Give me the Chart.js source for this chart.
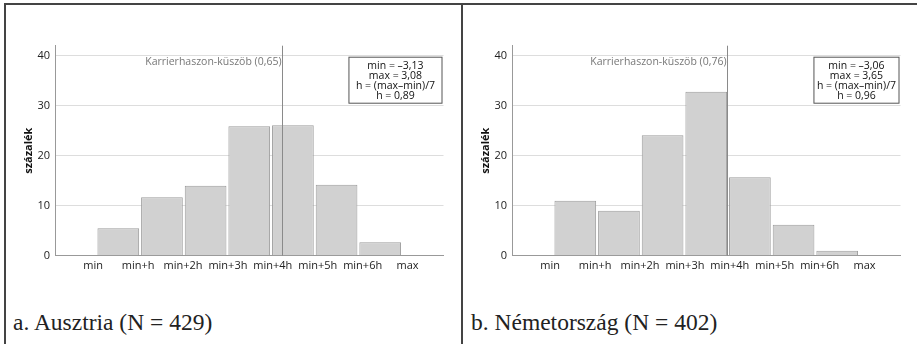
<!DOCTYPE html>
<html>
<head>
<meta charset="utf-8">
<script src="https://cdn.jsdelivr.net/npm/chart.js@4.4.1/dist/chart.umd.min.js"></script>
<style>
  body { margin: 0; background: #fff; }
  #page { position: relative; width: 917px; height: 344px; overflow: hidden; }
  .rule { position: absolute; background: #444; }
  .panel { position: absolute; top: 0; width: 460px; height: 290px; }
  .caption { position: absolute; top: 311px; font-family: 'Liberation Serif', serif; font-size: 23.5px; line-height: 23px; color: #222; white-space: nowrap; }
</style>
</head>
<body>
<div id="page">
  <div class="rule" style="left:4px; top:3px; width:913px; height:2px;"></div>
  <div class="rule" style="left:4px; top:3px; width:2px; height:341px;"></div>
  <div class="rule" style="left:461px; top:3px; width:2px; height:341px;"></div>
  <div class="panel" style="left:0px;"><canvas id="chartA" width="460" height="290"></canvas></div>
  <div class="panel" style="left:457px;"><canvas id="chartB" width="460" height="290"></canvas></div>
  <div class="caption" style="left:13px;">a. Ausztria (N = 429)</div>
  <div class="caption" style="left:471px;">b. Németország (N = 402)</div>
</div>
<script>
// Tengely feliratok
const binLabels = ['min', 'min+h', 'min+2h', 'min+3h', 'min+4h', 'min+5h', 'min+6h', 'max'];
const yTicks = [0, 10, 20, 30, 40];

// Ausztria
const percentA = [5.5, 11.7, 14.0, 25.9, 26.1, 14.2, 2.7];
const minA = -3.13;
const hA = 0.89;
const thresholdA = 0.65;
const thresholdLabelA = 'Karrierhaszon-küszöb (0,65)';
const statsA = ['min = –3,13', 'max = 3,08', 'h = (max–min)/7', 'h = 0,89'];

// Németország
const percentB = [11.0, 9.0, 24.1, 32.8, 15.7, 6.2, 1.0];
const minB = -3.06;
const hB = 0.96;
const thresholdB = 0.76;
const thresholdLabelB = 'Karrierhaszon-küszöb (0,76)';
const statsB = ['min = –3,06', 'max = 3,65', 'h = (max–min)/7', 'h = 0,96'];

const FONT = '"Open Sans", "DejaVu Sans", sans-serif';

// Küszöb vonal + statisztika doboz
const markerPlugin = {
    id: 'marker',
    afterDatasetsDraw(chart, args, opts) {
        const { ctx, chartArea, scales } = chart;
        const x = Math.round(scales.x.getPixelForValue(opts.value)) + 0.5;
        ctx.save();
        ctx.strokeStyle = '#8a8a8a';
        ctx.lineWidth = 1;
        ctx.beginPath();
        ctx.moveTo(x, chartArea.top);
        ctx.lineTo(x, chartArea.bottom);
        ctx.stroke();

        ctx.font = '10.5px ' + FONT;
        ctx.fillStyle = '#777';
        ctx.textAlign = 'right';
        ctx.textBaseline = 'middle';
        ctx.fillText(opts.label, x - 1, chartArea.top + 16);

        // doboz
        ctx.font = '10.5px ' + FONT;
        const widths = opts.stats.map(t => ctx.measureText(t).width);
        const w = Math.max(...widths) + opts.boxPad * 2;
        const hgt = opts.stats.length * 10 + 6;
        const right = chartArea.right - 1.5;
        const top = chartArea.top + 11.5;
        ctx.fillStyle = '#fff';
        ctx.fillRect(right - w, top, w, hgt);
        ctx.strokeStyle = '#555';
        ctx.strokeRect(right - w, top, w, hgt);
        ctx.fillStyle = '#111';
        ctx.textAlign = 'center';
        opts.stats.forEach((t, i) => {
            ctx.fillText(t, right - w / 2, top + 8.5 + i * 10);
        });
        ctx.restore();
    }
};

function makeChart(id, values, min, h, threshold, thrLabel, stats, boxPad) {
    const ctx = document.getElementById(id).getContext('2d');
    return new Chart(ctx, {
        type: 'bar',
        data: {
            datasets: [{
                data: values.map((v, i) => ({ x: min + (i + 0.5) * h, y: v })),
                backgroundColor: '#d1d1d1',
                borderColor: '#9c9c9c',
                borderWidth: 1,
                categoryPercentage: 1,
                barPercentage: 0.955,
                xAxisID: 'x',
                yAxisID: 'y'
            }]
        },
        options: {
            responsive: false,
            animation: false,
            layout: { padding: { top: 45.7, right: 16.5, bottom: 10.3, left: 0 } },
            plugins: {
                legend: { display: false },
                tooltip: { enabled: false },
                marker: { value: threshold, label: thrLabel, stats: stats, boxPad: boxPad }
            },
            scales: {
                x: {
                    type: 'linear',
                    display: false,
                    offset: false,
                    min: min - 0.95 * h,
                    max: min + 7.95 * h
                },
                x2: {
                    type: 'linear',
                    position: 'bottom',
                    offset: false,
                    min: -0.85,
                    max: 7.8,
                    grid: { display: false, drawTicks: false, offset: false },
                    border: { display: true, color: '#999' },
                    afterBuildTicks: s => { s.ticks = binLabels.map((_, i) => ({ value: i })); },
                    afterFit: s => { s.height = 24; },
                    ticks: {
                        padding: 4,
                        maxRotation: 0,
                        autoSkip: false,
                        color: '#222',
                        font: { family: FONT, size: 11 },
                        callback: v => binLabels[v]
                    }
                },
                y: {
                    min: 0,
                    max: 42,
                    afterBuildTicks: s => { s.ticks = yTicks.map(v => ({ value: v })); },
                    afterFit: s => { s.width = 55; },
                    grid: { color: '#dddddd', drawTicks: false },
                    border: { color: '#999' },
                    ticks: { padding: 5, color: '#222', font: { family: FONT, size: 11 } },
                    title: {
                        display: true,
                        text: 'százalék',
                        color: '#111',
                        padding: { top: 22 },
                        font: { family: FONT, size: 11, weight: 'bold' }
                    }
                }
            }
        },
        plugins: [markerPlugin]
    });
}

makeChart('chartA', percentA, minA, hA, thresholdA, thresholdLabelA, statsA, 7);
makeChart('chartB', percentB, minB, hB, thresholdB, thresholdLabelB, statsB, 3);
</script>
</body>
</html>
